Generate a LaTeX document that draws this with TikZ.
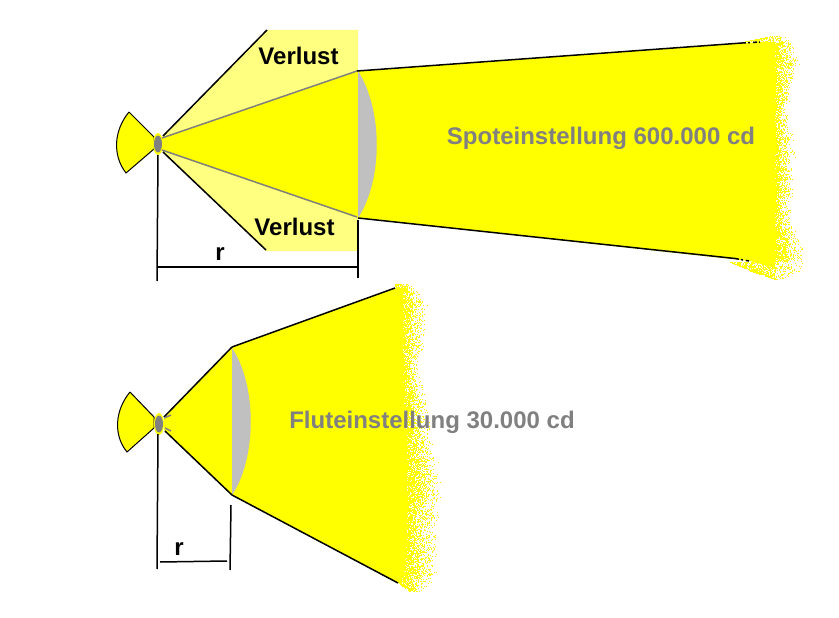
\documentclass[tikz,border=0pt]{standalone}
\usepackage{fontspec}
\setmainfont{Liberation Sans}
\definecolor{lampyellow}{RGB}{255,255,0}
\definecolor{lossyellow}{RGB}{255,255,128}
\definecolor{lensgray}{RGB}{192,192,192}
\definecolor{darkgray}{RGB}{128,128,128}
\tikzset{
  blk/.style={draw=black,line width=1.5pt},
  ray/.style={draw=darkgray,line width=1.5pt},
  frag/.style={draw=black,line width=1.5pt,dash pattern=on 4pt off 2pt on 2pt off 3pt},
  lbl/.style={font=\bfseries\fontsize{24}{24}\selectfont,text=black,inner sep=0pt,anchor=base},
  glbl/.style={font=\bfseries\fontsize{24}{24}\selectfont,text=darkgray,inner sep=0pt,anchor=base},
}
% speckle edge: rows from y0 to y1; solid edge s0->s1, outer edge o0->o1
\newcommand{\speckleband}[6]{%
  \foreach \yy in {#1,...,#2}{%
    \pgfmathsetmacro\frc{(\yy-#1)/(#2-#1+0.001)}%
    \pgfmathsetmacro\inn{#3+(#4-#3)*\frc}%
    \pgfmathsetmacro\out{#5+(#6-#5)*\frc+1.5*sin(\yy*19)}%
    \pgfmathtruncatemacro\xa{\inn}%
    \pgfmathtruncatemacro\xb{\out}%
    \foreach \xx in {\xa,...,\xb}{%
      \pgfmathsetmacro\prb{(\xx-\inn)/max(\out-\inn,3)}%
      \pgfmathparse{rnd>(0.12+0.88*\prb)?1:0}%
      \ifnum\pgfmathresult=1
        \fill[lampyellow] (\xx,\yy) rectangle (\xx+1,\yy+1);%
      \fi
    }%
  }%
}
\begin{document}
\begin{tikzpicture}[x=1pt,y=-1pt]
\pgfmathsetseed{4711}
\useasboundingbox (0,0) rectangle (839,618);
\fill[white] (0,0) rectangle (839,618);

% ---- upper beam
\fill[lampyellow] (358,71) -- (760,42) -- (775,42) -- (775,268) -- (750,261) -- (358,218) -- cycle;
\speckleband{36}{41}{770}{745}{785}{793}
\speckleband{42}{63}{775}{775}{793}{800}
\speckleband{64}{97}{775}{775}{800}{790}
\speckleband{98}{113}{775}{775}{790}{787}
\speckleband{114}{150}{775}{775}{787}{795}
\speckleband{151}{190}{775}{775}{795}{793}
\speckleband{191}{215}{775}{775}{793}{790}
\speckleband{216}{235}{775}{775}{790}{800}
\speckleband{236}{261}{775}{775}{800}{805}
\speckleband{262}{270}{730}{750}{805}{802}
\speckleband{271}{279}{750}{775}{802}{785}

% ---- lower beam
\fill[lampyellow] (232,347) -- (396,288) -- (403,288) -- (403,400) -- (407,440) -- (407,520) -- (405,570) -- (400,584) -- (232,495) -- cycle;
\speckleband{284}{300}{395}{403}{412}{428}
\speckleband{301}{340}{403}{403}{428}{425}
\speckleband{341}{365}{403}{403}{425}{417}
\speckleband{366}{400}{403}{403}{417}{430}
\speckleband{401}{440}{403}{407}{430}{433}
\speckleband{441}{480}{407}{407}{433}{442}
\speckleband{481}{520}{407}{407}{442}{438}
\speckleband{521}{570}{407}{405}{438}{437}
\speckleband{571}{583}{405}{400}{437}{433}
\speckleband{584}{591}{400}{410}{433}{422}

% ---- upper lamp and reflector
\fill[lossyellow] (162,137) -- (267,30) -- (358,30) -- (358,251) -- (266,251) -- (162,151) -- cycle;
\fill[lampyellow] (160,138) -- (358,71) -- (358,218) -- (160,150) -- cycle;
\filldraw[fill=lampyellow,draw=black,line width=1pt] (129,112) -- (154,137) -- (154,149) -- (126,173) .. controls (112,155) and (114,130) .. (129,112);
\fill[lampyellow] (158,144) ellipse (5 and 11);
\fill[lensgray] (358,71) .. controls (383,110) and (383,180) .. (358,218) -- cycle;
\draw[ray] (162,138) -- (357,71);
\draw[ray] (162,150) -- (357,217);
\coordinate (ua) at (163,136);
\coordinate (ub) at (267,30);
\coordinate (uc) at (163,152);
\coordinate (ud) at (266,250);
\coordinate (ue) at (357,71);
\coordinate (uf) at (742,43);
\coordinate (uf2) at (760,42);
\coordinate (ug) at (358,218);
\coordinate (uh) at (735,258.5);
\coordinate (uh2) at (749,261);
\draw[blk] (ua) -- (ub);
\draw[blk] (uc) -- (ud);
\draw[blk] (ue) -- (uf);
\draw[frag] (uf) -- (uf2);
\draw[blk] (ug) -- (uh);
\draw[frag] (uh) -- (uh2);
\fill[darkgray] (158,144) ellipse (4 and 8.5);
\node[lbl] (v1) at (298.5,65) {Verlust};
\node[lbl] (v2) at (294.5,235) {Verlust};
\node[glbl] (t1) at (601,144) {Spoteinstellung 600.000 cd};

% upper dimension
\coordinate (d1) at (158,155);
\coordinate (d2) at (157,281);
\coordinate (d3) at (358,220);
\coordinate (d4) at (358,278);
\coordinate (d5) at (158,267);
\coordinate (d6) at (358,267);
\draw[blk] (d1) -- (d2);
\draw[blk] (d3) -- (d4);
\draw[blk] (d5) -- (d6);
\node[lbl] (r1) at (220,260) {r};

% ---- lower lamp and reflector
\fill[lampyellow] (164,418) -- (232,347) -- (232,495) -- (164,430) -- cycle;
\filldraw[fill=lampyellow,draw=black,line width=1pt] (130,392) -- (154,417) -- (154,428) -- (127,452) .. controls (113,435) and (115,410) .. (130,392);
\fill[lampyellow] (159,424) ellipse (5 and 11);
\fill[lensgray] (232,348) .. controls (257,385) and (257,458) .. (232,495) -- cycle;
\coordinate (la) at (164,417);
\coordinate (lb) at (232,347);
\coordinate (lc) at (165,431);
\coordinate (ld) at (232,495);
\coordinate (le) at (395,288);
\coordinate (lf) at (398,583);
\draw[blk] (la) -- (lb);
\draw[blk] (lc) -- (ld);
\draw[blk] (lb) -- (le);
\draw[blk] (ld) -- (lf);
\draw[ray] (164,418) -- (171,415);
\draw[ray] (165,428) -- (171,431);
\fill[darkgray] (159,424) ellipse (4 and 8.5);
\node[glbl] (t2) at (432,428) {Fluteinstellung 30.000 cd};

% lower dimension
\coordinate (e1) at (158,434);
\coordinate (e2) at (157,569);
\coordinate (e3) at (231,505);
\coordinate (e4) at (230,570);
\coordinate (e5) at (160,562);
\coordinate (e6) at (227,561);
\draw[blk] (e1) -- (e2);
\draw[blk] (e3) -- (e4);
\draw[blk] (e5) -- (e6);
\node[lbl] (r2) at (179,555) {r};
\end{tikzpicture}
\end{document}
